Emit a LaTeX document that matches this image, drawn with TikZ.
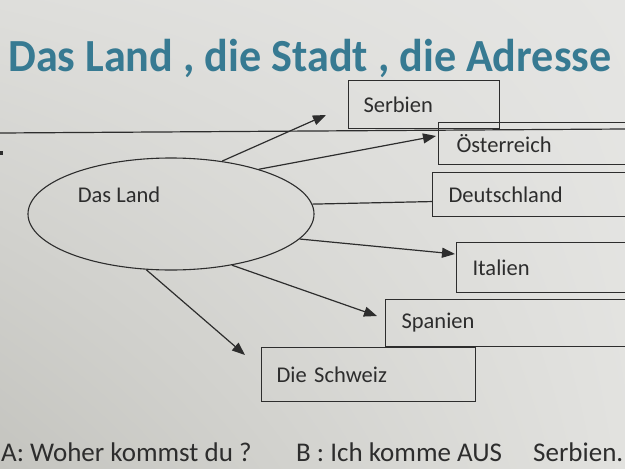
\documentclass[tikz,border=0pt]{standalone}
\usepackage{fontspec}
\setmainfont{Carlito}
\usetikzlibrary{shapes.geometric,arrows.meta,shadings}
\definecolor{bgUL}{RGB}{222,222,219}
\definecolor{bgUR}{RGB}{229,229,227}
\definecolor{bgLL}{RGB}{196,196,191}
\definecolor{bgLR}{RGB}{226,226,223}
\definecolor{ink}{RGB}{45,45,45}
\definecolor{titleteal}{RGB}{55,122,146}
\tikzset{
  box/.style={draw=ink, line width=1.1pt, rectangle, anchor=north west, inner ysep=0pt,
    align=left, text=ink, font=\fontsize{22.5}{26}\selectfont},
  conn/.style={draw=ink, line width=1.2pt},
  arr/.style={conn, -{Triangle[length=13pt,width=10pt]}},
  bottomtxt/.style={anchor=base west, inner sep=0pt, text=ink, font=\fontsize{27}{32}\selectfont},
}
\begin{document}
\begin{tikzpicture}[x=1pt,y=-1pt]
\useasboundingbox (0,0) rectangle (625,469);
\clip (0,0) rectangle (625,469);
\shade[upper left=bgUL, upper right=bgUR, lower left=bgLL, lower right=bgLR] (0,0) rectangle (625,469);
% title
\node[anchor=base west, inner sep=0pt, text=titleteal, font=\fontsize{46}{52}\bfseries\selectfont, xscale=0.96] (title) at (8,71) {Das Land , die Stadt , die Adresse};
% long horizontal rule
\coordinate (ruleL) at (0,133);
\coordinate (ruleR) at (625,129);
\draw[conn] (ruleL) -- (ruleR);
\fill[ink] (0,151) rectangle (3,155);
% boxes
\node[box, minimum width=151pt, minimum height=48pt, text width=121pt, inner xsep=15pt] (serb) at (348,80) {Serbien};
\node[box, minimum width=262pt, minimum height=42pt, text width=226pt, inner xsep=18pt] (oest) at (438,122) {Österreich};
\node[box, minimum width=268pt, minimum height=44pt, text width=236pt, inner xsep=16pt] (deut) at (432,172) {Deutschland};
\node[box, minimum width=244pt, minimum height=50pt, text width=212pt, inner xsep=16pt] (ital) at (456,242) {Italien};
\node[box, minimum width=315pt, minimum height=47pt, text width=283pt, inner xsep=16pt] (span) at (385,299) {Spanien};
\node[box, minimum width=214pt, minimum height=54pt, text width=184pt, inner xsep=15pt] (schw) at (261,347) {Die Schweiz};
% ellipse
\node[ellipse, draw=ink, line width=1.1pt, minimum width=286pt, minimum height=112pt, inner sep=0pt] (land) at (171,214) {};
\node[text=ink, font=\fontsize{22.5}{26}\selectfont, inner sep=0pt] (landtxt) at (119,195) {Das Land};
% arrow tips
\coordinate (tS) at (326,115);
\coordinate (tO) at (436,136);
\coordinate (tI) at (455,254);
\coordinate (tSp) at (377,316);
\coordinate (tCH) at (245,355);
\draw[arr] (land.46.7) -- (tS);
\draw[arr] (land.27.3) -- (tO);
\draw[conn] (land.4.8) -- ([yshift=-7pt]deut.west);
\draw[arr] (land.-11.8) -- (tI);
\draw[arr] (land.-40.8) -- (tSp);
\draw[arr] (land.-114.5) -- (tCH);
% bottom text
\node[bottomtxt] (qa) at (1,461) {A: Woher kommst du ?};
\node[bottomtxt] (qb) at (296,461) {B : Ich komme AUS};
\node[bottomtxt] (qc) at (533,461) {Serbien.};
\end{tikzpicture}
\end{document}
